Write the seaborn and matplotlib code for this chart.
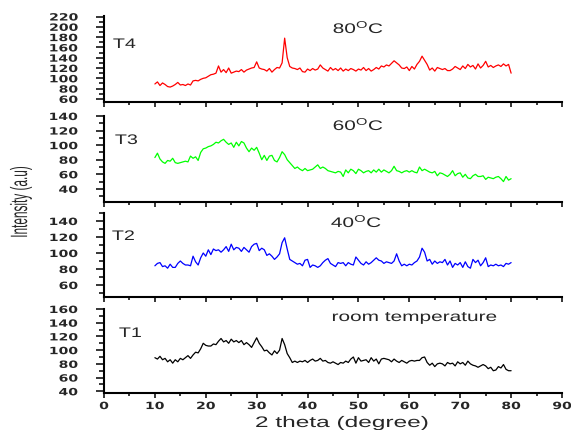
import numpy as np
import pandas as pd
import matplotlib
matplotlib.use("Agg")
import matplotlib.pyplot as plt
import seaborn as sns
from matplotlib.patheffects import AbstractPathEffect
from matplotlib.transforms import Affine2D
from matplotlib.ticker import MultipleLocator

# ---------------- data (0.5 degree steps, 10..80) ----------------
t4_80C = [
    89, 93, 86, 91, 88, 84, 83, 85, 88, 92,
    87, 88, 86, 89, 87, 95, 96, 95, 98, 100,
    101, 104, 107, 108, 110, 124, 112, 117, 111, 120,
    110, 112, 114, 113, 117, 112, 116, 118, 120, 121,
    132, 120, 118, 117, 114, 119, 112, 117, 121, 120,
    130, 178, 140, 123, 120, 119, 117, 120, 113, 112,
    118, 115, 119, 116, 118, 126, 120, 117, 114, 121,
    116, 119, 115, 120, 114, 118, 115, 119, 117, 114,
    118, 116, 121, 115, 119, 114, 117, 121, 118, 124,
    122, 126, 124, 129, 134, 130, 126, 120, 119, 122,
    115, 123, 118, 127, 133, 143, 135, 127, 116, 120,
    114, 121, 119, 117, 119, 115, 115, 118, 123, 120,
    117, 124, 119, 127, 122, 125, 118, 128, 120, 125,
    133, 122, 125, 121, 124, 126, 123, 128, 124, 127,
    110]
t3_60C = [
    83, 89, 81, 77, 75, 79, 78, 82, 76, 75,
    76, 77, 78, 77, 85, 82, 84, 79, 90, 95,
    96, 98, 99, 101, 104, 103, 106, 108, 104, 101,
    103, 97, 104, 99, 105, 103, 96, 91, 96, 93,
    97, 89, 80, 86, 79, 85, 86, 79, 77, 83,
    91, 87, 80, 76, 72, 68, 70, 67, 65, 68,
    65, 66, 67, 70, 73, 68, 70, 68, 65, 64,
    63, 62, 64, 63, 57, 66, 62, 67, 65, 61,
    67, 65, 62, 64, 65, 62, 66, 63, 67, 63,
    66, 64, 62, 65, 71, 65, 64, 62, 64, 65,
    63, 65, 63, 62, 70, 65, 67, 65, 63, 62,
    64, 58, 62, 61, 59, 57, 60, 65, 58, 61,
    62, 56, 60, 55, 54, 58, 60, 57, 57, 58,
    53, 56, 55, 54, 56, 57, 54, 50, 57, 52,
    54]
t2_40C = [
    84, 87, 88, 83, 84, 81, 86, 82, 82, 87,
    90, 87, 85, 85, 84, 96, 89, 85, 94, 100,
    96, 104, 98, 105, 103, 104, 101, 104, 108, 102,
    111, 104, 107, 106, 102, 107, 104, 101, 108, 111,
    112, 103, 106, 104, 97, 99, 96, 92, 95, 99,
    113, 119, 105, 92, 90, 88, 86, 87, 84, 91,
    92, 82, 85, 84, 82, 84, 88, 91, 93, 87,
    85, 83, 88, 87, 88, 84, 88, 86, 85, 95,
    91, 87, 85, 89, 86, 88, 91, 94, 91, 90,
    87, 89, 88, 87, 90, 99, 90, 84, 86, 84,
    86, 85, 88, 90, 95, 106, 101, 90, 92, 86,
    90, 87, 89, 88, 92, 85, 90, 82, 87, 85,
    88, 82, 89, 83, 81, 92, 88, 91, 84, 88,
    94, 83, 85, 84, 86, 84, 85, 83, 87, 86,
    88]
t1_room = [
    89, 87, 91, 86, 88, 83, 86, 81, 86, 83,
    88, 86, 89, 92, 88, 93, 97, 96, 102, 110,
    107, 106, 106, 109, 108, 113, 117, 112, 114, 110,
    116, 112, 114, 111, 114, 108, 111, 108, 104, 111,
    118, 110, 105, 99, 100, 96, 93, 99, 95, 100,
    117, 108, 95, 89, 82, 84, 82, 84, 83, 85,
    82, 85, 87, 84, 85, 88, 84, 85, 82, 81,
    83, 81, 79, 82, 81, 84, 82, 87, 90, 81,
    89, 84, 85, 86, 82, 89, 84, 87, 80, 87,
    88, 87, 86, 83, 87, 84, 82, 85, 83, 81,
    84, 85, 84, 85, 85, 89, 90, 82, 78, 81,
    76, 80, 81, 80, 77, 82, 80, 81, 77, 83,
    80, 82, 78, 84, 80, 78, 77, 75, 77, 79,
    77, 73, 75, 70, 71, 76, 74, 79, 72, 70,
    70]

sample_names = ["T4", "T3", "T2", "T1"]
temp_labels = ["80$^{\\mathrm{O}}$C", "60$^{\\mathrm{O}}$C", "40$^{\\mathrm{O}}$C", "room temperature"]
line_colors = ["#ff0000", "#00ff00", "#0000ff", "#000000"]
y_ticks = [[60, 80, 100, 120, 140, 160, 180, 200, 220],
           [40, 60, 80, 100, 120, 140],
           [60, 80, 100, 120, 140],
           [40, 60, 80, 100, 120, 140, 160]]
y_limits = [(54, 221), (22, 140), (45, 150), (37.5, 160)]
x_ticks = [0, 10, 20, 30, 40, 50, 60, 70, 80, 90]
series = [t4_80C, t3_60C, t2_40C, t1_room]


# ---------------- horizontal stretch for text (reference text is drawn wide) ----------------
class HStretch(AbstractPathEffect):
    def __init__(self, sx, anchor="center"):
        super().__init__()
        self.sx = sx
        self.anchor = anchor

    def draw_path(self, renderer, gc, tpath, affine, rgbFace=None):
        bb = tpath.get_extents(affine)
        cx = {"left": bb.x0, "center": 0.5 * (bb.x0 + bb.x1), "right": bb.x1}[self.anchor]
        aff = affine + Affine2D().translate(-cx, 0).scale(self.sx, 1).translate(cx, 0)
        renderer.draw_path(gc, tpath, aff, rgbFace)


sns.set_style("ticks")
plt.rcParams["font.family"] = ["Liberation Sans", "DejaVu Sans"]
plt.rcParams["mathtext.fontset"] = "custom"
plt.rcParams["mathtext.rm"] = "Liberation Sans"
plt.rcParams["mathtext.it"] = "Liberation Sans:italic"
plt.rcParams["mathtext.bf"] = "Liberation Sans:bold"

W, H = 571, 431
fig = plt.figure(figsize=(W / 100, H / 100), dpi=100)

# panel boxes in pixels: (top, bottom)
boxes = [(17, 103), (117, 203), (214, 298), (310, 394)]
left_px, right_px = 104, 562
name_pos = [(113, 49), (115, 145), (112, 241), (119, 338)]
temp_pos = [(333, 34), (333, 131), (331, 228), (332, 322)]

tick_font = dict(family="DejaVu Sans", weight="bold", size=7.2)

for i, (vals, name, tlab, col) in enumerate(zip(series, sample_names, temp_labels, line_colors)):
    top, bot = boxes[i]
    ax = fig.add_axes([left_px / W, 1 - bot / H, (right_px - left_px) / W, (bot - top) / H])
    df = pd.DataFrame({"two_theta": np.linspace(10, 80, len(vals)), "intensity": vals})
    sns.lineplot(data=df, x="two_theta", y="intensity", ax=ax, color=col,
                 linewidth=0.9, estimator=None, sort=False)
    ax.set_xlim(0, 90)
    ax.set_ylim(*y_limits[i])
    ax.set_xticks(x_ticks)
    ax.xaxis.set_minor_locator(MultipleLocator(5))
    ax.set_yticks(y_ticks[i])
    ax.yaxis.set_minor_locator(MultipleLocator(10))
    ax.set_xlabel("")
    ax.set_ylabel("")
    sns.despine(ax=ax)
    for s in ("left", "bottom"):
        ax.spines[s].set_linewidth(1.5)
        ax.spines[s].set_color("black")
    ax.tick_params(axis="y", which="major", direction="out", length=5.8, width=1.1,
                   pad=13, color="black")
    ax.tick_params(axis="y", which="minor", direction="out", length=3.6, width=1.1, color="black")
    ax.tick_params(axis="x", which="major", direction="out", length=3.6, width=1.1,
                   pad=2.2, color="black")
    ax.tick_params(axis="x", which="minor", direction="out", length=2.2, width=1.1, color="black")
    ax.set_yticklabels([str(v) for v in y_ticks[i]], fontdict=tick_font)
    for lab in ax.get_yticklabels():
        lab.set_path_effects([HStretch(1.4, "right")])
    if i < 3:
        ax.tick_params(axis="x", labelbottom=False)
    else:
        ax.set_xticklabels([str(v) for v in x_ticks], fontdict=tick_font)
        for lab in ax.get_xticklabels():
            lab.set_path_effects([HStretch(1.4, "center")])

    nx, ny = name_pos[i]
    fig.text(nx / W, 1 - ny / H, name, fontsize=10, ha="left", va="baseline",
             path_effects=[HStretch(1.42, "left")])
    tx, ty = temp_pos[i]
    fig.text(tx / W, 1 - ty / H, tlab, fontsize=10, ha="left", va="baseline",
             path_effects=[HStretch(1.5, "left")])

fig.text(21 / W, 1 - 203 / H, "Intensity (a.u)", fontsize=8.5, rotation=90,
         ha="center", va="center", path_effects=[HStretch(2.0, "center")])
fig.text(342 / W, 1 - 428 / H, "2 theta (degree)", fontsize=11, ha="center",
         va="baseline", path_effects=[HStretch(1.6, "center")])

fig.savefig("out.png", dpi=100)
